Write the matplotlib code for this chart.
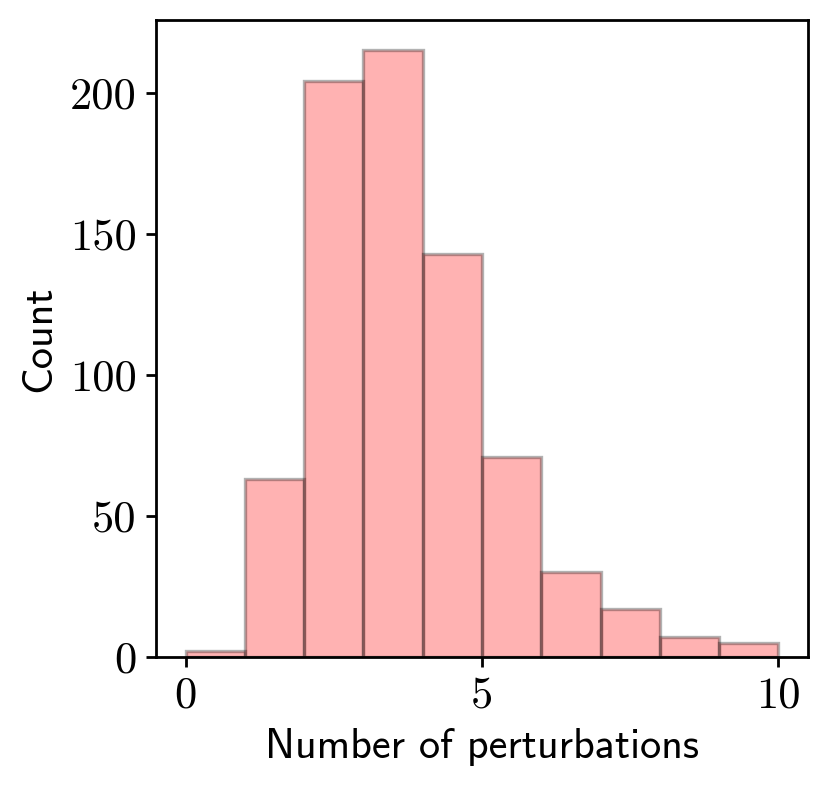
import numpy as np
import matplotlib
matplotlib.use("Agg")
import matplotlib.pyplot as plt

# histogram of perturbation counts, one bin per integer
bin_edges = [0, 1, 2, 3, 4, 5, 6, 7, 8, 9, 10]
counts = [2, 63, 204, 215, 143, 71, 30, 17, 7, 5]
x_ticks = [0, 5, 10]
y_ticks = [0, 50, 100, 150, 200]

plt.rcParams['axes.formatter.use_mathtext'] = True
plt.rcParams['axes.linewidth'] = 1.0
plt.rcParams['xtick.major.width'] = 1.0
plt.rcParams['ytick.major.width'] = 1.0

fig = plt.figure(figsize=(4.15, 3.94), dpi=200)
ax = fig.add_axes([0.188, 0.1662, 0.7855, 0.8084])

ax.hist(bin_edges[:-1], bins=bin_edges, weights=counts,
        color='red', alpha=0.3, edgecolor='black', linewidth=1.2)

ax.set_xlim(-0.5, 10.5)
ax.set_xticks(x_ticks)
ax.set_xticklabels([str(t) for t in x_ticks], fontfamily='cmr10', fontsize=16)
ax.set_yticks(y_ticks)
ax.set_yticklabels([str(t) for t in y_ticks], fontfamily='cmr10', fontsize=16)

ax.set_xlabel('Number of perturbations', fontfamily='cmss10', fontsize=15.2)
ax.set_ylabel('Count', fontfamily='cmss10', fontsize=15.2)

fig.savefig('out.png', dpi=200)
